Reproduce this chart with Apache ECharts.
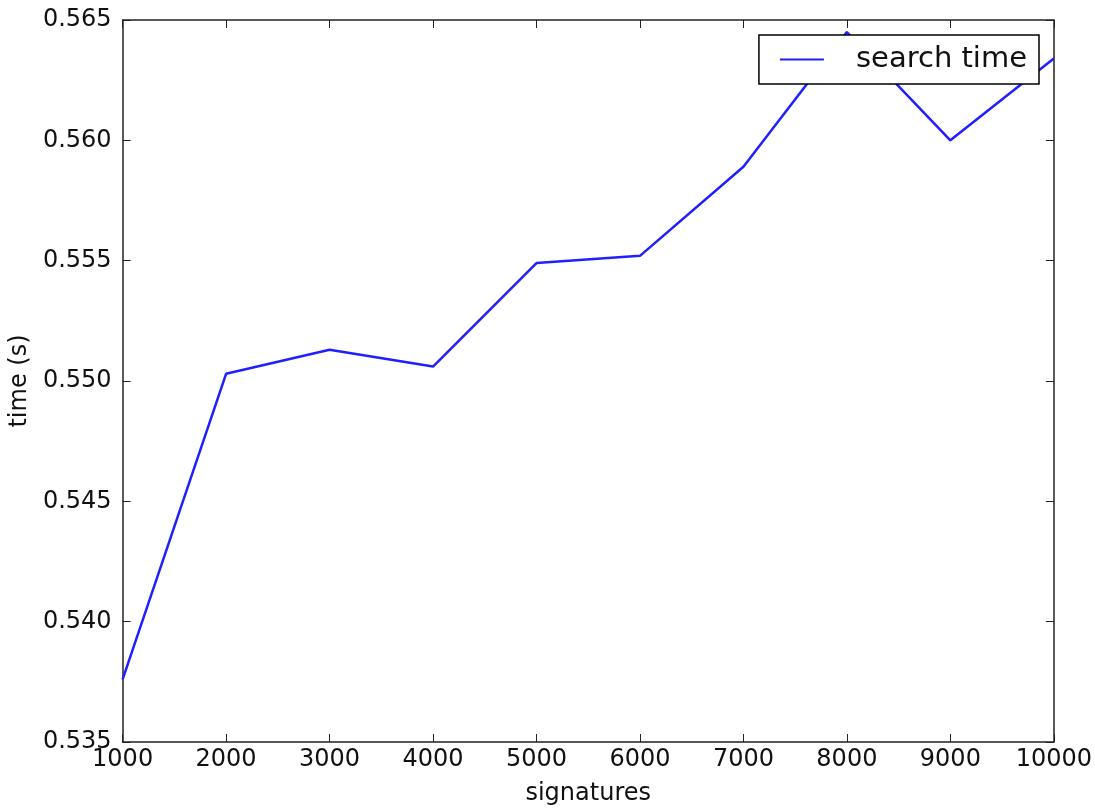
<!DOCTYPE html>
<html>
<head>
<meta charset="utf-8">
<script src="https://cdn.jsdelivr.net/npm/echarts@6/dist/echarts.min.js"></script>
<style>
html, body { margin: 0; padding: 0; background: #fff; overflow: hidden; }
#main { width: 100vw; height: 100vh; }
</style>
</head>
<body>
<div id="main"></div>
<script type="text/javascript">
	// 数据
	var signatures = [1000, 2000, 3000, 4000, 5000, 6000, 7000, 8000, 9000, 10000];
	var searchTime = [0.5376, 0.5503, 0.5513, 0.5506, 0.5549, 0.5552, 0.5589, 0.5645, 0.5600, 0.5634];
	var yTicks = [0.535, 0.540, 0.545, 0.550, 0.555, 0.560, 0.565];

	var fontName = 'DejaVu Sans';
	var axisColor = '#222';

	var points = [];
	for (var i = 0; i < signatures.length; i++) {
		points.push([signatures[i], searchTime[i]]);
	}

	function frameX(show) {
		return {
			type : 'value',
			min : signatures[0],
			max : signatures[signatures.length - 1],
			interval : 1000,
			position : show ? 'bottom' : 'top',
			axisLine : { show : true, lineStyle : { color : axisColor, width : 1.5 } },
			axisTick : { show : true, inside : true, length : 8, lineStyle : { color : axisColor } },
			axisLabel : {
				show : show,
				margin : 6,
				color : '#111',
				fontFamily : fontName,
				fontSize : 24,
				formatter : function(v) { return String(v); }
			},
			splitLine : { show : false }
		};
	}

	function frameY(show) {
		return {
			type : 'value',
			min : yTicks[0],
			max : yTicks[yTicks.length - 1],
			interval : 0.005,
			position : show ? 'left' : 'right',
			axisLine : { show : true, lineStyle : { color : axisColor, width : 1.5 } },
			axisTick : { show : true, inside : true, length : 8, lineStyle : { color : axisColor } },
			axisLabel : {
				show : show,
				margin : 11,
				color : '#111',
				fontFamily : fontName,
				fontSize : 24,
				formatter : function(v) { return v.toFixed(3); }
			},
			splitLine : { show : false }
		};
	}

	var xBottom = frameX(true);
	xBottom.name = 'signatures';
	xBottom.nameLocation = 'middle';
	xBottom.nameGap = 40;
	xBottom.nameTextStyle = { color : '#111', fontFamily : fontName, fontSize : 24 };

	var yLeft = frameY(true);
	yLeft.name = 'time (s)';
	yLeft.nameLocation = 'middle';
	yLeft.nameGap = 86;
	yLeft.nameTextStyle = { color : '#111', fontFamily : fontName, fontSize : 24 };

	var myChart = echarts.init(document.getElementById('main'));
	var option = {
		backgroundColor : '#fff',
		animation : false,
		grid : {
			left : 121,
			right : 41,
			top : 20,
			bottom : 49,
			containLabel : false
		},
		legend : {
			data : [ 'search time' ],
			right : 56,
			top : 35,
			orient : 'vertical',
			icon : 'rect',
			itemWidth : 44,
			itemHeight : 2,
			padding : [ 10, 12, 10, 21 ],
			borderColor : '#000',
			borderWidth : 1.5,
			borderRadius : 0,
			backgroundColor : '#fff',
			textStyle : {
				color : '#111',
				fontFamily : fontName,
				fontSize : 29,
				padding : [ 0, 0, 0, 27 ]
			}
		},
		xAxis : [ xBottom, frameX(false) ],
		yAxis : [ yLeft, frameY(false) ],
		series : [ {
			name : 'search time',
			type : 'line',
			xAxisIndex : 0,
			yAxisIndex : 0,
			showSymbol : false,
			symbol : 'none',
			color : '#1f1fff',
			lineStyle : { width : 2.5, color : '#1f1fff' },
			data : points
		} ]
	};
	myChart.setOption(option);
</script>
</body>
</html>
